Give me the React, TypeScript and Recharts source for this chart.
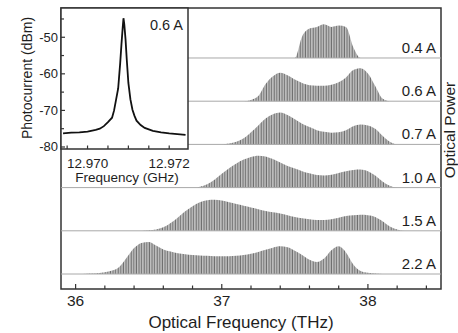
import { ComposedChart, Area, XAxis, YAxis, ReferenceLine, ReferenceArea, LineChart, Line } from 'recharts'

// optical spectra, 0.05 THz grid
const freqTHz = [
  36.0, 36.05, 36.1, 36.15, 36.2, 36.25, 36.3, 36.35, 36.4, 36.45,
  36.5, 36.55, 36.6, 36.65, 36.7, 36.75, 36.8, 36.85, 36.9, 36.95,
  37.0, 37.05, 37.1, 37.15, 37.2, 37.25, 37.3, 37.35, 37.4, 37.45,
  37.5, 37.55, 37.6, 37.65, 37.7, 37.75, 37.8, 37.85, 37.9, 37.95,
  38.0, 38.05, 38.1, 38.15, 38.2, 38.25, 38.3,
]

const power04 = [
  0, 0, 0, 0, 0, 0, 0, 0, 0, 0,
  0, 0, 0, 0, 0, 0, 0, 0, 0, 0,
  0, 0, 0, 0, 0, 0, 0, 0, 0, 0,
  0, 0.5, 0.68, 0.72, 0.78, 0.72, 0.75, 0.72, 0.25, 0,
  0, 0, 0, 0, 0, 0, 0,
]
const power06 = [
  0, 0, 0, 0, 0, 0, 0, 0, 0, 0,
  0, 0, 0, 0, 0, 0, 0, 0, 0, 0,
  0, 0, 0, 0, 0.03, 0.12, 0.4, 0.58, 0.66, 0.6,
  0.5, 0.42, 0.37, 0.36, 0.36, 0.38, 0.44, 0.55, 0.72, 0.76,
  0.64, 0.35, 0.06, 0, 0, 0, 0,
]
const power07 = [
  0, 0, 0, 0, 0, 0, 0, 0, 0, 0,
  0, 0, 0, 0, 0, 0, 0, 0, 0, 0,
  0, 0.02, 0.06, 0.14, 0.28, 0.44, 0.6, 0.7, 0.74, 0.68,
  0.58, 0.48, 0.4, 0.33, 0.29, 0.27, 0.28, 0.33, 0.42, 0.46,
  0.44, 0.36, 0.2, 0.06, 0, 0, 0,
]
const power10 = [
  0, 0, 0, 0, 0, 0, 0, 0, 0, 0,
  0, 0, 0, 0, 0, 0, 0, 0.02, 0.08, 0.18,
  0.32, 0.45, 0.56, 0.65, 0.71, 0.74, 0.72, 0.66, 0.58, 0.5,
  0.44, 0.38, 0.33, 0.29, 0.28, 0.3, 0.34, 0.38, 0.41, 0.42,
  0.38, 0.28, 0.14, 0.04, 0, 0, 0,
]
const power15 = [
  0, 0, 0, 0, 0, 0, 0, 0, 0, 0,
  0.01, 0.03, 0.08, 0.18, 0.31, 0.45, 0.57, 0.66, 0.71, 0.72,
  0.7, 0.66, 0.62, 0.58, 0.54, 0.5, 0.46, 0.43, 0.4, 0.36,
  0.32, 0.29, 0.27, 0.25, 0.25, 0.27, 0.3, 0.34, 0.36, 0.37,
  0.36, 0.32, 0.22, 0.1, 0.03, 0, 0,
]
const power22 = [
  0, 0, 0.01, 0.02, 0.04, 0.08, 0.17, 0.38, 0.6, 0.72,
  0.74, 0.66, 0.57, 0.52, 0.48, 0.46, 0.44, 0.43, 0.42, 0.41,
  0.41, 0.41, 0.42, 0.44, 0.47, 0.51, 0.56, 0.61, 0.64, 0.62,
  0.54, 0.44, 0.33, 0.28, 0.36, 0.55, 0.64, 0.5, 0.22, 0.07,
  0.03, 0.01, 0, 0, 0, 0, 0,
]

const currents = ['0.4 A', '0.6 A', '0.7 A', '1.0 A', '1.5 A', '2.2 A']
const spectra = [power04, power06, power07, power10, power15, power22]

const mainTicks = [36, 36.2, 36.4, 36.6, 36.8, 37, 37.2, 37.4, 37.6, 37.8, 38, 38.2, 38.4]

// inset: beat note at 0.6 A
const insetFreqGHz = [
  12.9694, 12.9696, 12.9698, 12.97, 12.9702, 12.9703, 12.9704, 12.9705, 12.9706, 12.97065,
  12.9707, 12.97075, 12.9708, 12.97083, 12.97086, 12.97088, 12.9709, 12.97093, 12.97096, 12.971,
  12.97105, 12.9711, 12.97115, 12.9712, 12.9713, 12.9714, 12.9716, 12.9718, 12.972, 12.9722, 12.9724,
]
const insetPowerDbm = [
  -76.3, -76.1, -76.0, -75.8, -75.3, -75.0, -74.3, -73.2, -72.0, -70.0,
  -67.0, -64.0, -57.0, -52.0, -47.5, -44.8, -46.5, -50.5, -56.0, -62.5,
  -67.0, -69.8, -71.5, -72.8, -74.0, -74.8, -75.6, -76.0, -76.3, -76.5, -76.7,
]
const insetXTicks = [12.9695, 12.97, 12.9705, 12.971, 12.9715, 12.972]
const insetXLabels = ['12.970', '12.972']
const insetYTicks = [-80, -75, -70, -65, -60, -55, -50, -45]

const FONT = '"Liberation Sans", Arial, Helvetica, sans-serif'
const INK = '#1e1e1e'
const FRAME = '#333'

const X_DOMAIN: [number, number] = [35.9, 38.5]
const Y_DOMAIN: [number, number] = [-0.347, 6.157]
const IX_DOMAIN: [number, number] = [12.96935, 12.97246]
const IY_DOMAIN: [number, number] = [-80.55, -42]

const rows = freqTHz.map((f, i) => {
  const row: Record<string, number> = { f }
  spectra.forEach((s, k) => {
    row[`p${k}`] = spectra.length - 1 - k + s[i]
  })
  return row
})

const insetRows = insetFreqGHz.map((f, i) => ({ f, db: insetPowerDbm[i] }))

function MainTick({ x, y, payload }: any) {
  const v = payload.value as number
  const major = Math.abs(v - Math.round(v)) < 1e-6
  return (
    <g>
      <line x1={x} x2={x} y1={y} y2={y - (major ? 5 : 3.5)} stroke={FRAME} strokeWidth={1.2} />
      {major && (
        <text x={x} y={y + 17} textAnchor="middle" fontSize={15.5} fill={INK}>
          {v}
        </text>
      )}
    </g>
  )
}

function InsetXTick({ x, y, payload }: any) {
  const v = payload.value as number
  const lbl = insetXLabels.find((l) => Math.abs(Number(l) - v) < 1e-7)
  return (
    <g>
      <line x1={x} x2={x} y1={y} y2={y - 3.5} stroke={FRAME} strokeWidth={1.2} />
      {lbl && (
        <text x={x} y={y + 19} textAnchor="middle" fontSize={13.5} fill={INK}>
          {lbl}
        </text>
      )}
    </g>
  )
}

function InsetYTick({ x, y, payload }: any) {
  const v = payload.value as number
  const major = v % 10 === 0
  return (
    <g>
      <line x1={x} x2={x + (major ? 4 : 3)} y1={y} y2={y} stroke={FRAME} strokeWidth={1.2} />
      {major && (
        <text x={x - 3} y={y + 4.5} textAnchor="end" fontSize={13} fill={INK}>
          {v}
        </text>
      )}
    </g>
  )
}

export default function App() {
  return (
    <div
      style={{
        position: 'absolute',
        left: 0,
        top: 0,
        width: 458,
        height: 333,
        overflow: 'hidden',
        background: '#fff',
        fontFamily: FONT,
      }}
    >
      <svg width={0} height={0} style={{ position: 'absolute' }}>
        <defs>
          <pattern id="comb" width={2.6} height={10} patternUnits="userSpaceOnUse">
            <rect width={2.6} height={10} fill="#c9c9c9" />
            <rect x={0.6} width={1.2} height={10} fill="#707070" />
          </pattern>
        </defs>
      </svg>

      <div style={{ position: 'absolute', left: 0, top: 0 }}>
        <ComposedChart width={458} height={333} data={rows} margin={{ top: 8, right: 17, left: 61, bottom: 0 }}>
          <XAxis
            dataKey="f"
            type="number"
            domain={X_DOMAIN}
            ticks={mainTicks}
            interval={0}
            axisLine={false}
            tickLine={false}
            tickSize={0}
            tickMargin={0}
            height={44}
            tick={<MainTick />}
          />
          <YAxis type="number" domain={Y_DOMAIN} hide />
          {spectra.map((_, k) => (
            <ReferenceLine
              key={`b${k}`}
              y={spectra.length - 1 - k}
              stroke="#a8a8a8"
              strokeWidth={1}
              label={{
                value: currents[k],
                position: 'insideBottomRight',
                offset: 5,
                fill: INK,
                fontSize: 15,
              }}
            />
          ))}
          {spectra.map((_, k) => (
            <Area
              key={`a${k}`}
              dataKey={`p${k}`}
              type="monotone"
              baseValue={spectra.length - 1 - k}
              stroke="none"
              fill="url(#comb)"
              fillOpacity={1}
              isAnimationActive={false}
            />
          ))}
          <ReferenceArea
            x1={X_DOMAIN[0]}
            x2={X_DOMAIN[1]}
            y1={Y_DOMAIN[0]}
            y2={Y_DOMAIN[1]}
            fill="none"
            stroke={FRAME}
            strokeWidth={1.5}
          />
        </ComposedChart>
      </div>

      <div style={{ position: 'absolute', left: 61, top: 8, width: 127, height: 141, background: '#fff' }} />

      <div style={{ position: 'absolute', left: 0, top: 0 }}>
        <LineChart width={200} height={190} data={insetRows} margin={{ top: 8, right: 12, left: 0, bottom: 0 }}>
          <XAxis
            dataKey="f"
            type="number"
            domain={IX_DOMAIN}
            ticks={insetXTicks}
            interval={0}
            axisLine={false}
            tickLine={false}
            tickSize={0}
            tickMargin={0}
            height={41}
            tick={<InsetXTick />}
          />
          <YAxis
            type="number"
            domain={IY_DOMAIN}
            ticks={insetYTicks}
            interval={0}
            axisLine={false}
            tickLine={false}
            tickSize={0}
            tickMargin={0}
            width={61}
            tick={<InsetYTick />}
          />
          <Line
            dataKey="db"
            type="linear"
            stroke="#111"
            strokeWidth={1.8}
            dot={false}
            isAnimationActive={false}
          />
          <ReferenceArea
            x1={IX_DOMAIN[0]}
            x2={IX_DOMAIN[1]}
            y1={IY_DOMAIN[0]}
            y2={IY_DOMAIN[1]}
            fill="none"
            stroke={FRAME}
            strokeWidth={1.5}
          />
        </LineChart>
      </div>

      <svg width={458} height={333} style={{ position: 'absolute', left: 0, top: 0, pointerEvents: 'none' }}>
        <text x={241} y={328} textAnchor="middle" fontSize={17} fill={INK}>
          Optical Frequency (THz)
        </text>
        <text x={454.5} y={130} textAnchor="middle" fontSize={15.5} fill={INK} transform="rotate(-90 454.5 130)">
          Optical Power
        </text>
        <text x={32} y={78} textAnchor="middle" fontSize={14} fill={INK} transform="rotate(-90 32 78)">
          Photocurrent (dBm)
        </text>
        <text x={183} y={29.5} textAnchor="end" fontSize={14.5} fill={INK}>
          0.6 A
        </text>
        <text x={127} y={182} textAnchor="middle" fontSize={13.5} fill={INK}>
          Frequency (GHz)
        </text>
      </svg>
    </div>
  )
}
